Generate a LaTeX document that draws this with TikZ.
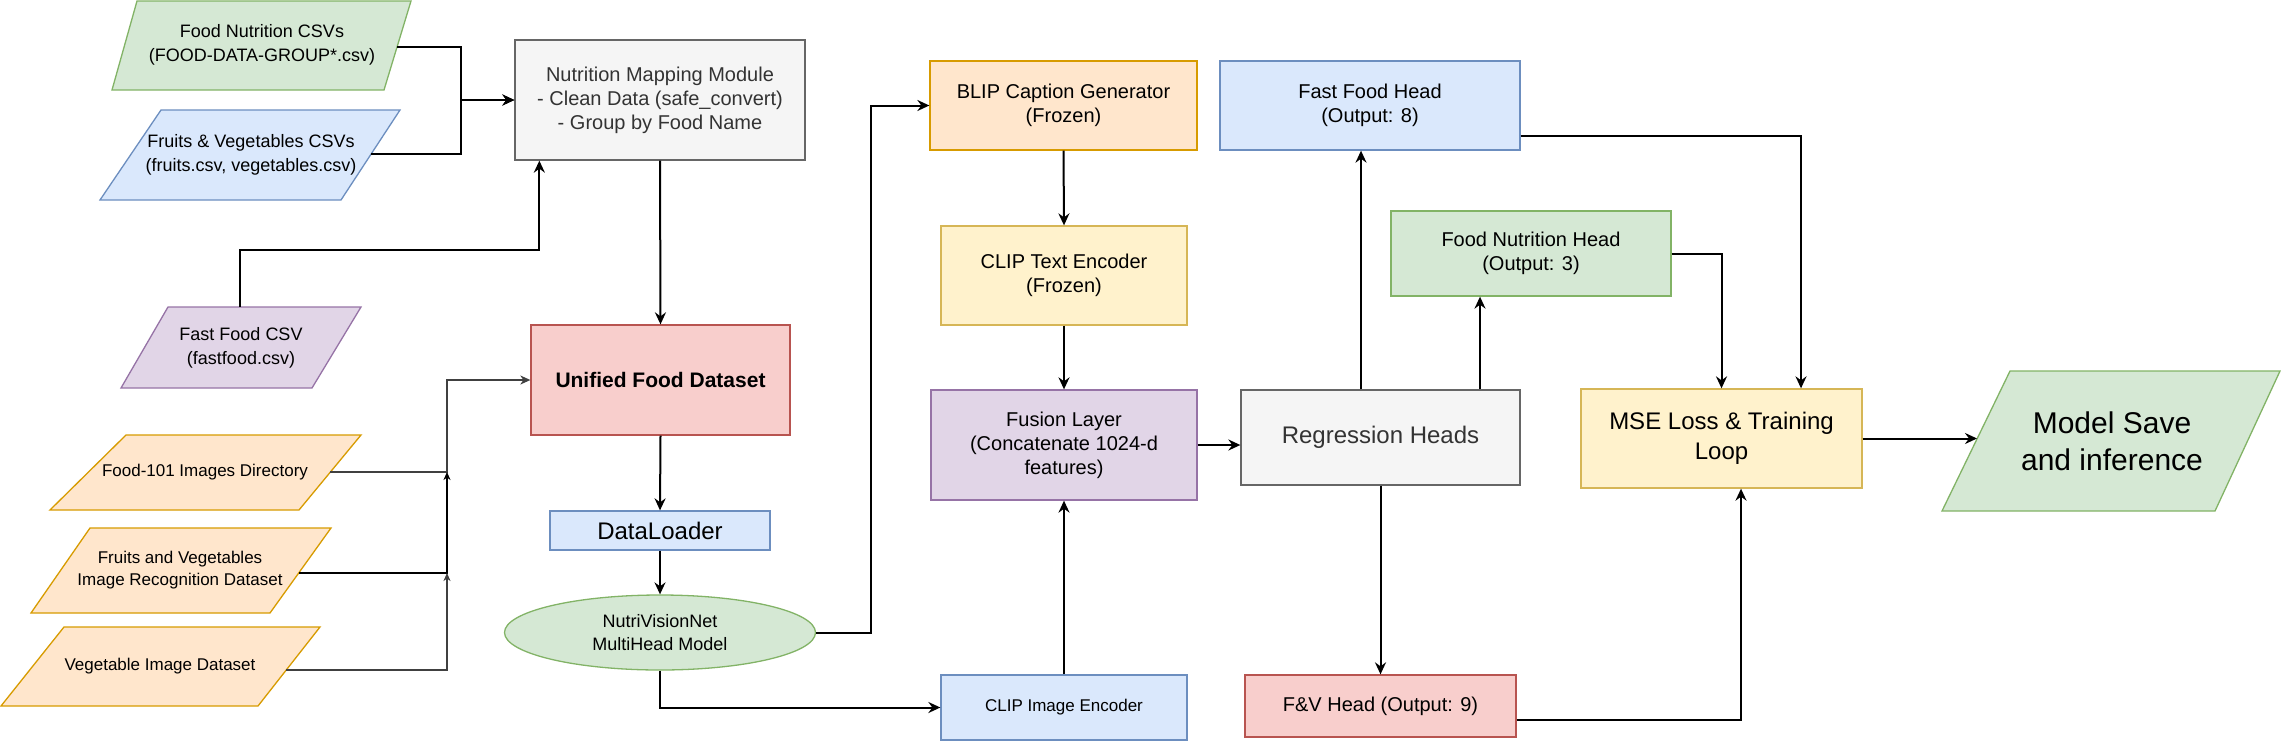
\documentclass[tikz,border=0pt]{standalone}
\usepackage{fontspec}
\setmainfont{Liberation Sans}
\usetikzlibrary{arrows.meta,shapes.geometric,calc}
\definecolor{gfill}{HTML}{D5E8D4}\definecolor{gline}{HTML}{82B366}
\definecolor{bfill}{HTML}{DAE8FC}\definecolor{bline}{HTML}{6C8EBF}
\definecolor{ofill}{HTML}{FFE6CC}\definecolor{oline}{HTML}{D79B00}
\definecolor{yfill}{HTML}{FFF2CC}\definecolor{yline}{HTML}{D6B656}
\definecolor{rfill}{HTML}{F8CECC}\definecolor{rline}{HTML}{B85450}
\definecolor{pfill}{HTML}{E1D5E7}\definecolor{pline}{HTML}{9673A6}
\definecolor{kfill}{HTML}{F5F5F5}\definecolor{kline}{HTML}{666666}
\definecolor{ktext}{HTML}{333333}
\begin{document}
\begin{tikzpicture}[x=1pt,y=-1pt,
  base/.style={font=\fontsize{18}{23.5}\selectfont, align=center, inner sep=0pt},
  small/.style={font=\fontsize{17}{22}\selectfont},
  mid/.style={font=\fontsize{20}{24}\selectfont},
  big/.style={font=\fontsize{24}{30}\selectfont},
  huge/.style={font=\fontsize{30}{37}\selectfont},
  box/.style={base, draw, line width=1.3pt, rectangle},
  sz/.style 2 args={minimum width=#1pt, minimum height=#2pt},
  para/.style={line width=1.3pt},
  arr/.style={line width=2pt, -{Stealth[length=12pt,width=11pt,inset=4pt]}},
  thin/.style={line width=1.3pt},
  tiny/.style={line width=1.3pt, -{Stealth[length=8pt,width=7pt,inset=2.5pt]}},
]
\useasboundingbox (0,0) rectangle (2281,742);

% ---------- parallelograms (inputs) ----------
\filldraw[para, fill=gfill, draw=gline] (137,1) -- (411,1) -- (384,90) -- (112,90) -- cycle;
\node[base] (fnc) at (262,45) {Food Nutrition CSVs\\(FOOD-DATA-GROUP*.csv)};
\coordinate (fncR) at (397,47);

\filldraw[para, fill=bfill, draw=bline] (161,110) -- (400,110) -- (341,200) -- (100,200) -- cycle;
\node[base] (fvc) at (251,155) {Fruits \& Vegetables CSVs\\(fruits.csv, vegetables.csv)};
\coordinate (fvcR) at (371,154);

\filldraw[para, fill=pfill, draw=pline] (168,307) -- (361,307) -- (312,388) -- (121,388) -- cycle;
\node[base] (ffc) at (241,348) {Fast Food CSV\\(fastfood.csv)};
\coordinate (ffcT) at (240,307);

\filldraw[para, fill=ofill, draw=oline] (126,435) -- (361,435) -- (299,510) -- (50,510) -- cycle;
\node[base,small] (f101) at (205,472) {Food-101 Images Directory};
\coordinate (f101R) at (330,472);

\filldraw[para, fill=ofill, draw=oline] (90,528) -- (331,528) -- (270,613) -- (31,613) -- cycle;
\node[base,small] (fvi) at (180,570) {Fruits and Vegetables\\Image Recognition Dataset};
\coordinate (fviR) at (299,573);

\filldraw[para, fill=ofill, draw=oline] (64,627) -- (320,627) -- (258,706) -- (1,706) -- cycle;
\node[base,small] (vid) at (160,666) {Vegetable Image Dataset};
\coordinate (vidR) at (286,670);

\filldraw[para, fill=gfill, draw=gline] (2010,371) -- (2280,371) -- (2215,511) -- (1942,511) -- cycle;
\node[base,huge] (ms) at (2112,441) {Model Save\\and inference};
\coordinate (msL) at (1977,438.5);

% ---------- boxes ----------
\node[box, mid, sz={290}{120}, fill=kfill, draw=kline, text=ktext] (nmm) at (660,100)
  {Nutrition Mapping Module\\- Clean Data (safe\_convert)\\- Group by Food Name};
\node[box, sz={259}{110}, fill=rfill, draw=rline, font=\fontsize{21}{25}\selectfont\bfseries] (ufd) at (660.5,380) {Unified Food Dataset};
\node[box, big, sz={220}{39}, fill=bfill, draw=bline] (dl) at (660,530.5) {DataLoader};
\node[base, draw, line width=1.3pt, ellipse, fill=gfill, draw=gline, sz={311}{75}] (nvn) at (660,632.5) {NutriVisionNet\\MultiHead Model};

\node[box, mid, sz={267}{89}, fill=ofill, draw=oline] (blip) at (1063.5,105.5) {BLIP Caption Generator\\(Frozen)};
\node[box, mid, sz={246}{99}, fill=yfill, draw=yline] (clipt) at (1064,275.5) {CLIP Text Encoder\\(Frozen)};
\node[box, mid, sz={266}{110}, fill=pfill, draw=pline] (fus) at (1064,445) {Fusion Layer\\(Concatenate 1024-d\\features)};
\node[box, small, sz={246}{65}, fill=bfill, draw=bline] (clipi) at (1064,707.5) {CLIP Image Encoder};

\node[box, big, sz={279}{95}, fill=kfill, draw=kline, text=ktext] (reg) at (1380.5,437.5) {Regression Heads};
\node[box, mid, sz={300}{89}, fill=bfill, draw=bline] (ffh) at (1370,105.5) {Fast Food Head\\(Output: 8)};
\node[box, mid, sz={280}{85}, fill=gfill, draw=gline] (fnh) at (1531,253.5) {Food Nutrition Head\\(Output: 3)};
\node[box, mid, sz={271}{62}, fill=rfill, draw=rline] (fvh) at (1380.5,706) {F\&V Head (Output: 9)};
\node[box, big, sz={281}{99}, fill=yfill, draw=yline] (mse) at (1721.5,438.5) {MSE Loss \& Training\\Loop};

% ---------- connectors ----------
\draw[arr] (fncR) -- ++(64,0) |- (nmm.west);
\draw[arr] (fvcR) -- ++(90,0) |- (nmm.west);
\draw[arr] (ffcT) -- ++(0,-57) -| ([xshift=25pt]nmm.south west);
\draw[arr] (nmm.south) -- (ufd.north);

\coordinate (jx) at (447,380);
\draw[thin, black!75, -{Stealth[length=10pt,width=9pt,inset=3pt]}] (f101R) -| (jx) -- (ufd.west);
\draw[tiny] (fviR) -| ($(jx)+(0,92)$);
\draw[tiny, black!75] (vidR) -| ($(jx)+(0,193)$);

\draw[arr] (ufd.south) -- (dl.north);
\draw[arr] (dl.south) -- (nvn.north);
\draw[arr] (nvn.east) -- ++(55,0) |- (blip.west);
\draw[arr] (nvn.south) |- (clipi.west);

\draw[arr] (blip.south) -- (clipt.north);
\draw[arr] (clipt.south) -- (fus.north);
\draw[arr] (clipi.north) -- (fus.south);
\draw[arr] (fus.east) -- (fus.east -| reg.west);

\draw[arr] ([xshift=-19.5pt]reg.north) -- ([xshift=-19.5pt]reg.north |- ffh.south);
\draw[arr] ([xshift=99.5pt]reg.north) -- ([xshift=99.5pt]reg.north |- fnh.south);
\draw[arr] (reg.south) -- (fvh.north);

\draw[arr] ([yshift=-30.5pt]ffh.east) -| ([xshift=79.5pt]mse.north);
\draw[arr] (fnh.east) -| (mse.north);
\draw[arr] ([yshift=-14pt]fvh.east) -| ([xshift=19.5pt]mse.south);
\draw[arr] (mse.east) -- (msL);
\end{tikzpicture}
\end{document}
